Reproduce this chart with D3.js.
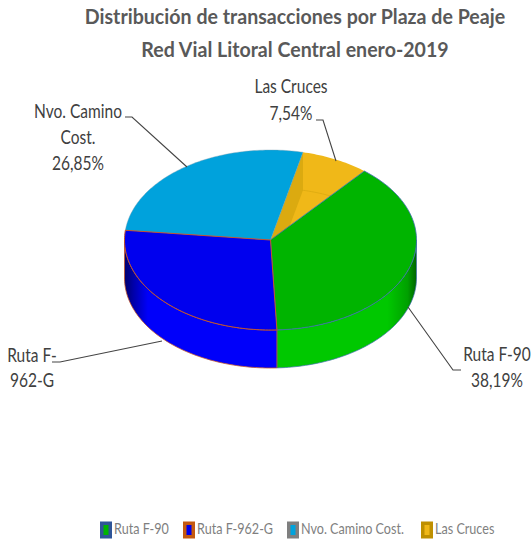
<!DOCTYPE html>
<html><head><meta charset="utf-8">
<script src="https://cdn.jsdelivr.net/npm/d3@7"></script>
<style>html,body{margin:0;padding:0;background:#fff}svg{display:block}text{font-family:Lato,"Open Sans",sans-serif}</style>
</head><body><div id="c"></div>
<script>
const categories = ["Ruta F-90","Ruta F-962-G","Nvo. Camino Cost.","Las Cruces"];
const values = [38.19,27.42,26.85,7.54];
const topColors = ["#00b400","#0000ee","#00a2dc","#f0b818"];
const edgeColors = ["#3f6fb0","#c4552a","#8a8a8a","#d09a10"];
const wallDark = ["#006400","#00006e","#0078a8","#dbaa10"];
const wallLight = ["#00c800","#0000fa","#00a2dc","#f0b818"];
const legendBorders = ["#2f5597","#c55a11","#7f7f7f","#bf9000"];
const titleLines = ["Distribución de transacciones por Plaza de Peaje","Red Vial Litoral Central enero-2019"];

const W=531,H=540,cx=270.5,cy=240,rx=146,ry=90,depth=38;
const svg=d3.select("#c").append("svg").attr("width",W).attr("height",H);
const defs=svg.append("defs");
const px=a=>cx+rx*Math.sin(a), py=a=>cy-ry*Math.cos(a);
const pie=d3.pie().sort(null).startAngle(40*Math.PI/180).endAngle(400*Math.PI/180);
const arcs=pie(values);
const line=d3.line();
const ang=(a0,a1)=>{const n=Math.max(2,Math.ceil(Math.abs(a1-a0)/0.02));return d3.range(n+1).map(i=>a0+(a1-a0)*i/n)};
const sector=(a0,a1,dy=0)=>line([[cx,cy+dy],...ang(a0,a1).map(a=>[px(a),py(a)+dy])])+"Z";
const side=(a0,a1)=>line([...ang(a0,a1).map(a=>[px(a),py(a)]),...ang(a1,a0).map(a=>[px(a),py(a)+depth])])+"Z";

const grad=(id,stops)=>{const g=defs.append("linearGradient").attr("id",id).attr("gradientUnits","userSpaceOnUse")
  .attr("x1",cx-rx).attr("x2",cx+rx).attr("y1",0).attr("y2",0);
  stops.forEach(s=>g.append("stop").attr("offset",s[0]).attr("stop-color",s[1]));};
grad("gGreen",[[0,wallLight[0]],[0.9,wallLight[0]],[0.97,"#00a000"],[1,wallDark[0]]]);
grad("gBlue",[[0,wallDark[1]],[0.03,"#0000a8"],[0.08,wallLight[1]],[1,wallLight[1]]]);

const piece=svg.append("g");
const yc=arcs[3];
piece.append("path").attr("d",sector(yc.startAngle,yc.endAngle)).attr("fill",topColors[3]);
piece.append("path").attr("d",line([[cx,cy],[px(yc.startAngle),py(yc.startAngle)],[px(yc.startAngle),py(yc.startAngle)+depth],[cx,cy+depth]])+"Z").attr("fill",wallDark[3]);
piece.append("path").attr("d",line(ang(yc.startAngle,yc.endAngle).map(a=>[px(a),py(a)+depth]))).attr("fill","none").attr("stroke","#dbaa10").attr("stroke-width",0.8);
const cy2=arcs[2];
piece.append("path").attr("d",sector(cy2.startAngle,cy2.endAngle)).attr("fill",topColors[2]).attr("stroke","#7f9fb0").attr("stroke-width",0.4);
const g0=arcs[0], b0=arcs[1];
piece.append("path").attr("d",side(Math.PI/2,g0.endAngle)).attr("fill","url(#gGreen)").attr("stroke",edgeColors[0]).attr("stroke-width",0.7);
piece.append("path").attr("d",sector(g0.startAngle,g0.endAngle)).attr("fill",topColors[0]).attr("stroke",edgeColors[0]).attr("stroke-width",0.8);
piece.append("path").attr("d",side(b0.startAngle,3*Math.PI/2)).attr("fill","url(#gBlue)").attr("stroke",edgeColors[1]).attr("stroke-width",0.8);
piece.append("path").attr("d",sector(b0.startAngle,b0.endAngle)).attr("fill",topColors[1]).attr("stroke",edgeColors[1]).attr("stroke-width",1);

const leaders=[[[408,307],[453,370],[461,370]],[[162,341],[60,362],[52,362]],[[187,167],[132,117],[125,117]],[[336,161],[323,120],[316,120]]];
const lg=svg.append("g").attr("fill","none").attr("stroke","#444").attr("stroke-width",1.1);
leaders.forEach(l=>lg.append("path").attr("d",line(l)));

const tt=svg.append("g").attr("fill","#595959").attr("font-weight",700).attr("text-anchor","middle");
tt.append("text").attr("transform","translate(295,24) scale(1.06,1.16)").attr("font-size",18.5).text(titleLines[0]);
tt.append("text").attr("transform","translate(295,57) scale(1.06,1.16)").attr("font-size",18.5).text(titleLines[1]);

const fmt=v=>d3.format(".2f")(v).replace(".",",")+"%";
const labels=[
 {lines:["Ruta F-90",fmt(values[0])],x:497,y:[361,387]},
 {lines:["Ruta F-","962-G"],x:32,y:[362,387]},
 {lines:["Nvo. Camino","Cost.",fmt(values[2])],x:78,y:[118,144,170]},
 {lines:["Las Cruces",fmt(values[3])],x:291,y:[93,120]}
];
const lt=svg.append("g").attr("fill","#404040").attr("text-anchor","middle");
labels.forEach(l=>l.lines.forEach((s,i)=>lt.append("text").attr("transform",`translate(${l.x},${l.y[i]}) scale(0.97,1.16)`).attr("font-size",16).text(s)));

const lx=[100,183,287,421];
const lg2=svg.append("g");
categories.forEach((c,i)=>{
  lg2.append("rect").attr("x",lx[i]+1.75).attr("y",523.25).attr("width",8.5).attr("height",13.5).attr("fill",topColors[i]).attr("stroke",legendBorders[i]).attr("stroke-width",3.5);
  lg2.append("text").attr("transform",`translate(${lx[i]+14},534) scale(0.97,1.16)`).attr("font-size",13).attr("fill","#7f7f7f").text(c);
});
</script></body></html>
